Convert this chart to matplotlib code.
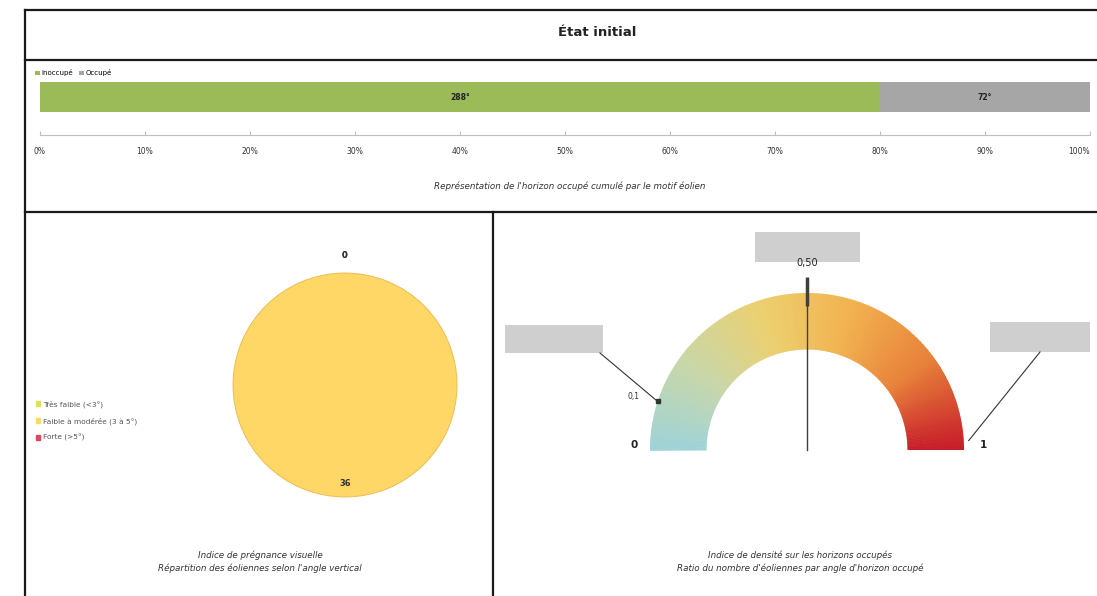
import numpy as np
import matplotlib.pyplot as plt
from matplotlib.patches import Wedge, Rectangle, Patch
from matplotlib.lines import Line2D
from matplotlib.colors import LinearSegmentedColormap

# ---- data ----
horizon_labels = ["Inoccupé", "Occupé"]
horizon_degrees = [288, 72]
horizon_colors = ["#9bbb59", "#a6a6a6"]
pct_ticks = [0, 10, 20, 30, 40, 50, 60, 70, 80, 90, 100]

pie_labels = ["Très faible (<3°)", "Faible à modérée (3 à 5°)", "Forte (>5°)"]
pie_values = [0, 36, 0]
pie_colors = ["#d7e35a", "#ffd766", "#e0475a"]

gauge_min, gauge_max = 0, 1
gauge_value = 0.50
gauge_marker = 0.1

W, H = 1097, 596
fig = plt.figure(figsize=(W / 100, H / 100), dpi=100)
fig.patch.set_facecolor("white")


def fx(x):
    return x / W


def fy(y):
    return 1 - y / H


def box(x0, y0, x1, y1):
    return [fx(x0), fy(y1), fx(x1) - fx(x0), fy(y0) - fy(y1)]


# ---- frame ----
frame = dict(color="#1a1a1a", lw=1.6, transform=fig.transFigure)
for (xa, ya, xb, yb) in [(25, 10, 1097, 10), (25, 60, 1097, 60), (25, 212, 1097, 212),
                         (25, 10, 25, 596), (493, 212, 493, 596)]:
    fig.add_artist(Line2D([fx(xa), fx(xb)], [fy(ya), fy(yb)], **frame))

fig.text(fx(597), fy(33), "État initial", ha="center", va="center",
         fontsize=9.5, fontweight="bold", color="#222222")

# ---- stacked horizon bar ----
axb = fig.add_axes(box(40, 72, 1090, 135))
total = sum(horizon_degrees)
left = 0.0
for lab, deg, col in zip(horizon_labels, horizon_degrees, horizon_colors):
    frac = deg / total
    axb.barh(0.6, frac, left=left, height=0.48, color=col, label=lab)
    axb.text(left + frac / 2, 0.6, f"{deg}°", ha="center", va="center",
             fontsize=5.5, fontweight="bold", color="#222222")
    left += frac
axb.set_xlim(0, 1)
axb.set_ylim(0, 1)
axb.set_yticks([])
axb.set_xticks([p / 100 for p in pct_ticks])
axb.set_xticklabels([f"{p}%" for p in pct_ticks], fontsize=5.5, color="#333333")
axb.get_xticklabels()[-1].set_horizontalalignment("right")
axb.tick_params(axis="x", length=3, color="#bfbfbf", pad=9, direction="in")
for s in ["top", "left", "right"]:
    axb.spines[s].set_visible(False)
axb.spines["bottom"].set_color("#bfbfbf")
axb.legend(loc="lower left", bbox_to_anchor=(-0.005, 0.93), ncol=2, fontsize=5,
           frameon=False, handlelength=0.7, handleheight=0.7, handletextpad=0.3,
           columnspacing=0.8, borderaxespad=0, borderpad=0)

fig.text(fx(570), fy(186), "Représentation de l'horizon occupé cumulé par le motif éolien",
         ha="center", va="center", fontsize=6.3, style="italic", color="#333333")

# ---- pie ----
axp = fig.add_axes(box(345 - 145.6, 385 - 145.6, 345 + 145.6, 385 + 145.6))
wedges, _ = axp.pie(pie_values, colors=pie_colors, startangle=90, counterclock=False,
                    radius=1.0, wedgeprops=dict(edgecolor="#e8b84a", linewidth=0.6))
for w, v in zip(wedges, pie_values):
    if v == 0:
        w.set_visible(False)
axp.set_xlim(-1.3, 1.3)
axp.set_ylim(-1.3, 1.3)
axp.set_aspect("equal")
axp.axis("off")
tot = sum(pie_values)
cum = 0
for v in pie_values:
    mid = 90 - 360 * (cum + v / 2) / tot
    r = 0.88 if v > 0 else 1.16
    axp.text(r * np.cos(np.radians(mid)), r * np.sin(np.radians(mid)), f"{v}",
             ha="center", va="center", fontsize=6, fontweight="bold", color="#333333")
    cum += v

handles = [Patch(color=c, label=l) for c, l in zip(pie_colors, pie_labels)]
fig.legend(handles=handles, loc="upper left", bbox_to_anchor=(fx(36), fy(400)),
           fontsize=5.3, frameon=False, handlelength=0.6, handleheight=0.6,
           handletextpad=0.3, labelspacing=1.3, borderaxespad=0, borderpad=0,
           labelcolor="#555555")

fig.text(fx(260), fy(555), "Indice de prégnance visuelle", ha="center", va="center",
         fontsize=6.3, style="italic", color="#333333")
fig.text(fx(260), fy(568), "Répartition des éoliennes selon l'angle vertical",
         ha="center", va="center", fontsize=6.3, style="italic", color="#333333")

# ---- gauge ----
R = 157.0
cx, cy = 807, 450
axg = fig.add_axes(box(cx - 310, cy - 230, cx + 290, cy + 20))
axg.set_xlim(-310 / R, 290 / R)
axg.set_ylim(-20 / R, 230 / R)
axg.axis("off")

cmap = LinearSegmentedColormap.from_list(
    "gauge", ["#9fd3d8", "#c9d7a8", "#ecd070", "#f2b250", "#e8823a", "#c81e2a"])
r_in = 0.64
n = 240
for i in range(n):
    t0 = 180 - 180 * i / n
    t1 = 180 - 180 * (i + 1) / n
    axg.add_patch(Wedge((0, 0), 1.0, t1, t0 + 0.3, width=1.0 - r_in,
                        color=cmap(i / (n - 1)), lw=0))


def ang(v):
    return np.radians(180 - 180 * (v - gauge_min) / (gauge_max - gauge_min))


# needle
a = ang(gauge_value)
axg.plot([0, 1.08 * np.cos(a)], [0, 1.08 * np.sin(a)], color="#404040", lw=1.0)
axg.plot([0.92 * np.cos(a), 1.1 * np.cos(a)], [0.92 * np.sin(a), 1.1 * np.sin(a)],
         color="#404040", lw=2.5, solid_capstyle="butt")
axg.text(1.14 * np.cos(a), 1.14 * np.sin(a) + 0.02, f"{gauge_value:.2f}".replace(".", ","),
         ha="center", va="bottom", fontsize=7, color="#222222")

# marker on the scale
m = ang(gauge_marker)
mx, my = 1.0 * np.cos(m), 1.0 * np.sin(m)
axg.plot([mx], [my], "s", ms=2.5, color="#333333")
axg.text(1.1 * np.cos(m) - 0.02, 1.1 * np.sin(m), f"{gauge_marker:g}".replace(".", ","),
         ha="right", va="center", fontsize=5.5, color="#333333")

# min / max labels
axg.text(-1.08, 0.03, f"{gauge_min}", ha="right", va="center", fontsize=7.5,
         fontweight="bold", color="#222222")
axg.text(1.1, 0.03, f"{gauge_max}", ha="left", va="center", fontsize=7.5,
         fontweight="bold", color="#222222")

# callout boxes
box_col = "#cfcfcf"
axg.add_patch(Rectangle((-52 / R, 188 / R), 105 / R, 30 / R, color=box_col, lw=0))
axg.add_patch(Rectangle((-302 / R, 97 / R), 98 / R, 28 / R, color=box_col, lw=0))
axg.plot([-207 / R, mx], [97 / R, my], color="#333333", lw=0.8)
axg.add_patch(Rectangle((183 / R, 98 / R), 100 / R, 30 / R, color=box_col, lw=0))
e = ang(gauge_max)
axg.plot([233 / R, 1.03 * np.cos(e)], [98 / R, 0.06], color="#333333", lw=0.8)

fig.text(fx(800), fy(555), "Indice de densité sur les horizons occupés", ha="center",
         va="center", fontsize=6.3, style="italic", color="#333333")
fig.text(fx(800), fy(568), "Ratio du nombre d'éoliennes par angle d'horizon occupé",
         ha="center", va="center", fontsize=6.3, style="italic", color="#333333")

fig.savefig("out.png", dpi=100)
